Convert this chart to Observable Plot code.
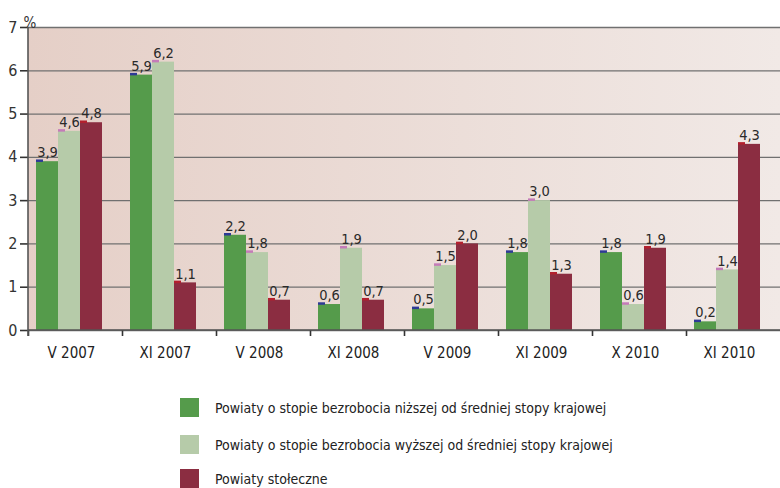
<!DOCTYPE html>
<html>
<head>
<meta charset="utf-8">
<script src="https://cdn.jsdelivr.net/npm/d3@7"></script>
<script src="https://cdn.jsdelivr.net/npm/@observablehq/plot@0.6"></script>
<style>
  body { margin: 0; background: #fff; font-family: "DejaVu Sans Condensed", "Open Sans", sans-serif; }
  #legend { position: relative; height: 126px; }
  .item { position: absolute; left: 180px; display: flex; align-items: center; font-size: 14px; color: #222; }
  .sw { width: 19px; height: 19px; margin-right: 16px; }
</style>
</head>
<body>
<div id="chart"></div>
<div id="legend"></div>
<script>
const categories = ["V 2007", "XI 2007", "V 2008", "XI 2008", "V 2009", "XI 2009", "X 2010", "XI 2010"];
const seriesNames = [
  "Powiaty o stopie bezrobocia niższej od średniej stopy krajowej",
  "Powiaty o stopie bezrobocia wyższej od średniej stopy krajowej",
  "Powiaty stołeczne"
];
const lowerValues   = [3.9, 5.9, 2.2, 0.6, 0.5, 1.8, 1.8, 0.2];
const higherValues  = [4.6, 6.2, 1.8, 1.9, 1.5, 3.0, 0.6, 1.4];
const capitalValues = [4.8, 1.1, 0.7, 0.7, 2.0, 1.3, 1.9, 4.3];
const yTicks = [0, 1, 2, 3, 4, 5, 6, 7];
const colors = ["#559b4b", "#b6cba9", "#8b2d41"];
const markerColors = ["#2e3a96", "#c47bb8", "#b3202e"];

const seriesValues = [lowerValues, higherValues, capitalValues];
const data = [];
categories.forEach((c, i) => {
  seriesNames.forEach((s, j) => data.push({cat: c, series: s, value: seriesValues[j][i]}));
});
const fmt = d3.formatLocale({decimal: ",", thousands: " ", grouping: [3], currency: ["", ""]}).format(".1f");

const W = 780, H = 362, ML = 28, MR = 0, MT = 27, MB = 32;
const halfBand = (W - ML - MR) / categories.length / 2;

const chart = Plot.plot({
  width: W, height: H,
  marginLeft: ML, marginRight: MR, marginTop: MT, marginBottom: MB,
  style: {fontFamily: '"DejaVu Sans Condensed", "Open Sans", sans-serif', background: "transparent"},
  fx: {domain: categories, padding: 0},
  x: {domain: seriesNames, paddingInner: 0, paddingOuter: 0.589, align: 0.28, axis: null},
  y: {domain: [0, 7], axis: null},
  color: {domain: seriesNames, range: colors},
  marks: [
    Plot.ruleY(yTicks, {stroke: "#707070", strokeWidth: 1.3}),
    Plot.barY(data, {fx: "cat", x: "series", y: "value", fill: "series"}),
    Plot.tickY(data, {fx: "cat", x: "series", y: "value", stroke: d => markerColors[seriesNames.indexOf(d.series)], strokeWidth: 2.5, insetRight: 15, dy: -1}),
    Plot.text(data, {fx: "cat", x: "series", y: "value", text: d => fmt(d.value), dy: -9, fontSize: 14.5, fill: "#2a2a2a"}),
    Plot.axisY({ticks: yTicks, tickSize: 8, tickPadding: 3, fontSize: 16, tickFormat: d => d, label: null, color: "#333", strokeWidth: 1.6}),
    Plot.axisFx({anchor: "bottom", tickSize: 0, tickPadding: 17, fontSize: 15, dx: -4, label: null, color: "#222"}),
    Plot.axisFx({anchor: "bottom", tickSize: 6, tickFormat: () => "", dx: -halfBand, label: null, stroke: "#333", strokeWidth: 1.6}),
    Plot.text([{cat: categories[0]}], {fx: "cat", text: () => "%", frameAnchor: "top-left", dx: -5, dy: -10, fontSize: 15, fill: "#333"})
  ]
});

// gradient background and frame lines behind the marks
const svg = d3.select(chart);
const y = chart.scale("y");
const defs = svg.insert("defs", ":first-child");
const g = defs.append("linearGradient").attr("id", "bg").attr("x1", "0").attr("x2", "1").attr("y1", "0").attr("y2", "0");
g.append("stop").attr("offset", "0").attr("stop-color", "#e5cfc7");
g.append("stop").attr("offset", "1").attr("stop-color", "#f1e9e6");
svg.insert("rect", "defs + *")
  .attr("x", ML).attr("y", y.apply(7)).attr("width", W - ML - MR).attr("height", y.apply(0) - y.apply(7))
  .attr("fill", "url(#bg)");
svg.append("line").attr("x1", ML).attr("x2", ML).attr("y1", y.apply(7)).attr("y2", y.apply(0) + 6)
  .attr("stroke", "#555").attr("stroke-width", 1.6);
svg.append("line").attr("x1", ML).attr("x2", W - MR).attr("y1", y.apply(0)).attr("y2", y.apply(0))
  .attr("stroke", "#555").attr("stroke-width", 1.6);

document.getElementById("chart").appendChild(chart);

const legend = document.getElementById("legend");
const tops = [36, 73, 107];
seriesNames.forEach((s, i) => {
  const it = document.createElement("div");
  it.className = "item";
  it.style.top = tops[i] + "px";
  it.innerHTML = `<div class="sw" style="background:${colors[i]}"></div><span>${s}</span>`;
  legend.appendChild(it);
});
</script>
</body>
</html>
